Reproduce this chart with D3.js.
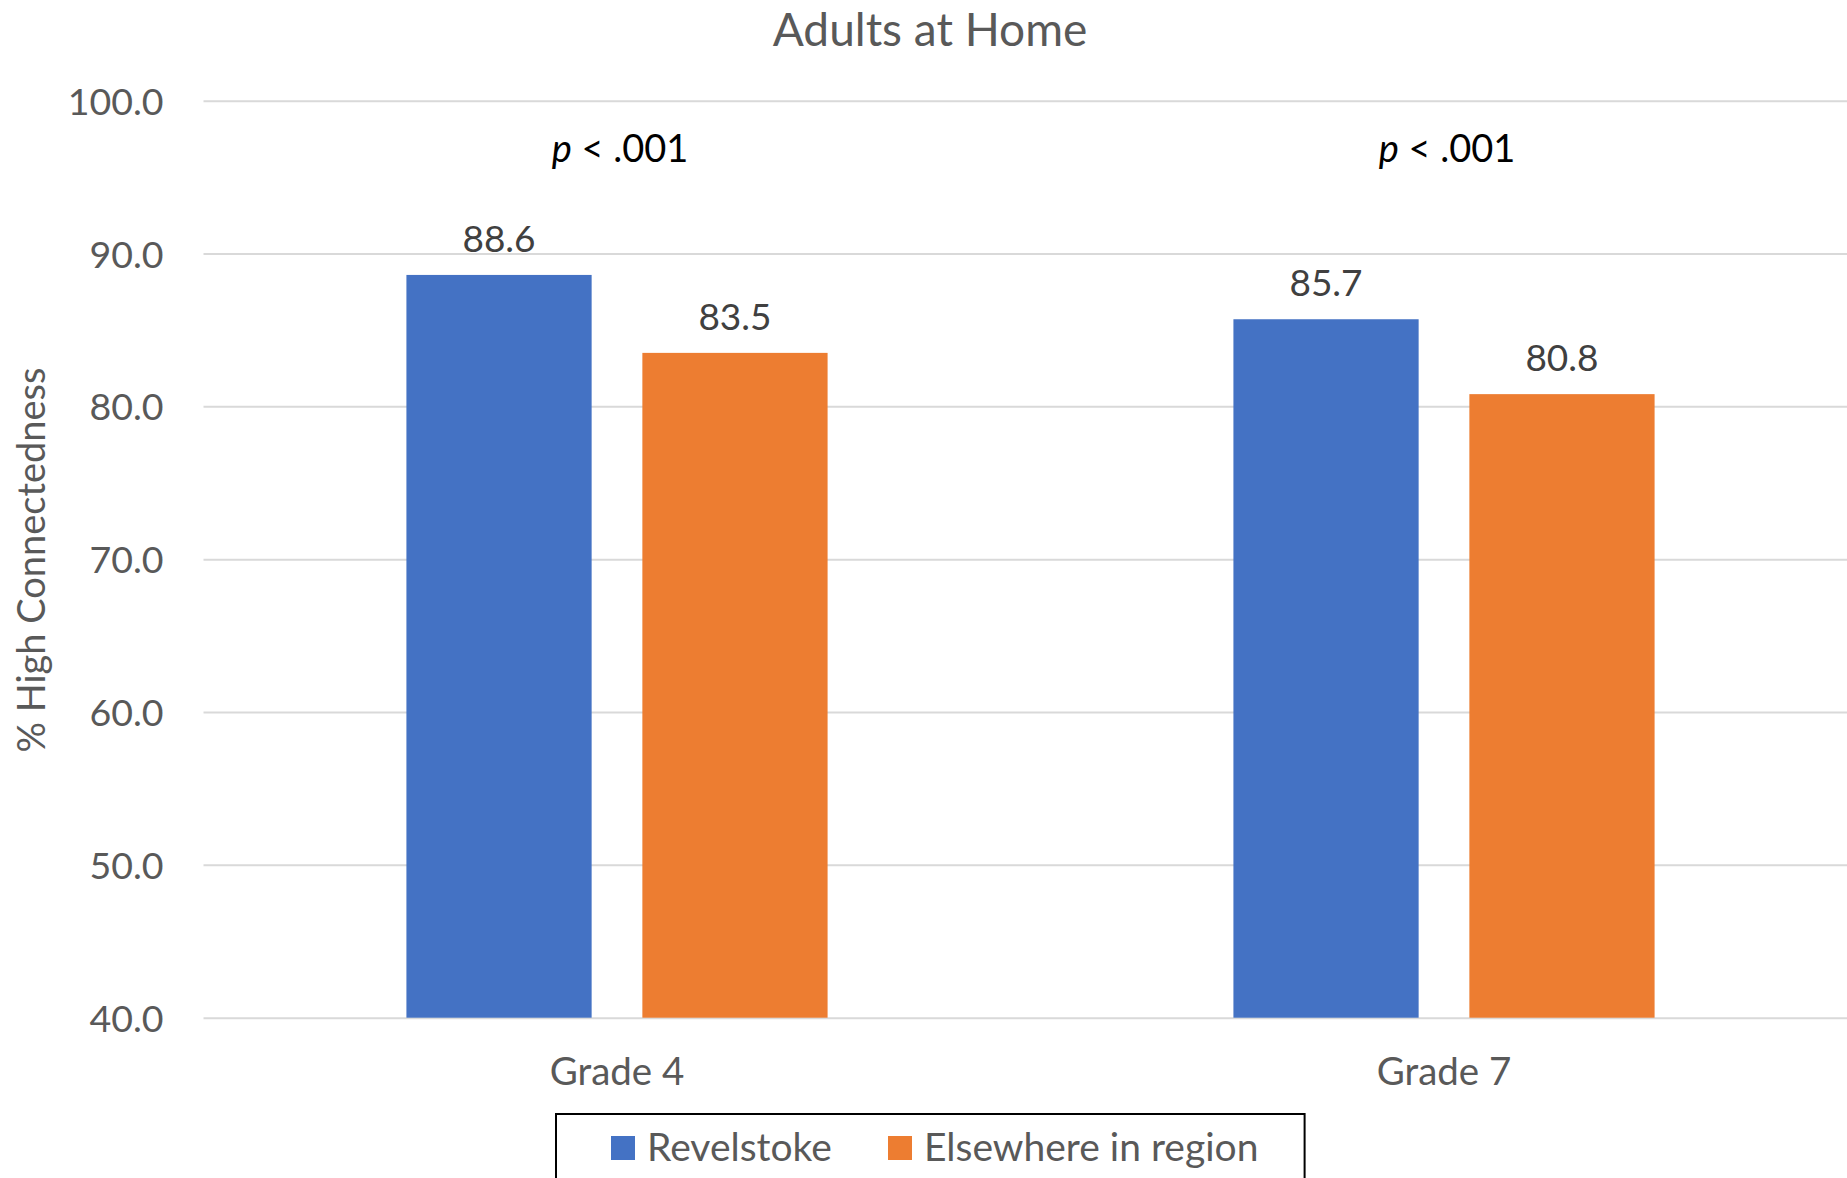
<!DOCTYPE html>
<html>
<head>
<meta charset="utf-8">
<script src="https://cdn.jsdelivr.net/npm/d3@7/dist/d3.min.js"></script>
<style>
  html, body { margin: 0; padding: 0; background: #fff; }
  svg { display: block; }
  text { font-family: Lato, "Open Sans", sans-serif; }
</style>
</head>
<body>
<svg id="chart" width="1847" height="1178"></svg>
<script>
// Chart data
const categories = ["Grade 4", "Grade 7"];
const seriesNames = ["Revelstoke", "Elsewhere in region"];
const revelstoke = [88.6, 85.7];
const elsewhere = [83.5, 80.8];
const pLabels = ["< .001", "< .001"];
const yTicks = [40, 50, 60, 70, 80, 90, 100];

const colors = ["#4472C4", "#ED7D31"];
const seriesValues = [revelstoke, elsewhere];

const W = 1847, H = 1178;
const plot = { left: 203.5, right: 1857.5, top: 100.7, bottom: 1017.7 };

const svg = d3.select("#chart");

const y = d3.scaleLinear().domain([40, 100]).range([plot.bottom, plot.top]);
const x0 = d3.scaleBand().domain(categories).range([plot.left, plot.right]).padding(0);
const x1 = d3.scaleBand().domain(seriesNames).range([0, x0.bandwidth()])
  .paddingInner(0.215).paddingOuter(0.86);

// Gridlines and y tick labels
const yAxis = d3.axisLeft(y).tickValues(yTicks)
  .tickFormat(d3.format(".1f"))
  .tickSize(-(W - plot.left)).tickPadding(40);
const ga = svg.append("g").attr("transform", `translate(${plot.left},0)`).call(yAxis);
ga.select(".domain").remove();
ga.selectAll(".tick line").attr("stroke", "#D9D9D9").attr("stroke-width", 2);
ga.selectAll(".tick text")
  .attr("fill", "#595959").attr("font-size", 37.5).attr("dy", "0.36em")
  .style("font-family", "Lato, 'Open Sans', sans-serif");

// Bars
const rows = categories.map((c, i) => ({ cat: c, vals: seriesNames.map((s, j) => ({ s, j, v: seriesValues[j][i] })) }));
const groups = svg.append("g").selectAll("g").data(rows).join("g")
  .attr("transform", d => `translate(${x0(d.cat)},0)`);

groups.selectAll("rect").data(d => d.vals).join("rect")
  .attr("x", d => x1(d.s))
  .attr("width", x1.bandwidth())
  .attr("y", d => y(d.v))
  .attr("height", d => y(40) - y(d.v))
  .attr("fill", d => colors[d.j]);

// Value labels
groups.selectAll("text.val").data(d => d.vals).join("text")
  .attr("class", "val")
  .attr("x", d => x1(d.s) + x1.bandwidth() / 2)
  .attr("y", d => y(d.v) - 23)
  .attr("text-anchor", "middle")
  .attr("fill", "#404040")
  .attr("font-size", 37)
  .text(d => d.v.toFixed(1));

// Significance annotations
const pt = svg.append("g").selectAll("text").data(categories).join("text")
  .attr("x", d => x0(d) + x0.bandwidth() / 2 + 3)
  .attr("y", 161.5)
  .attr("text-anchor", "middle")
  .attr("fill", "#000")
  .attr("font-size", 38);
pt.append("tspan").attr("font-style", "italic").text("p");
pt.append("tspan").text((d, i) => " " + pLabels[i]);

// Category labels
svg.append("g").selectAll("text").data(categories).join("text")
  .attr("x", d => x0(d) + x0.bandwidth() / 2)
  .attr("y", 1085)
  .attr("text-anchor", "middle")
  .attr("fill", "#595959")
  .attr("font-size", 38.5)
  .text(d => d);

// Title
svg.append("text")
  .attr("x", 930).attr("y", 46)
  .attr("text-anchor", "middle")
  .attr("fill", "#595959")
  .attr("font-size", 46)
  .text("Adults at Home");

// Y axis title
svg.append("text")
  .attr("transform", `translate(45,${(367 + 753) / 2}) rotate(-90)`)
  .attr("text-anchor", "middle")
  .attr("fill", "#595959")
  .attr("font-size", 38)
  .text("% High Connectedness");

// Legend
const legend = svg.append("g");
legend.append("rect")
  .attr("x", 556).attr("y", 1114)
  .attr("width", 748.6).attr("height", 80)
  .attr("fill", "#fff").attr("stroke", "#000").attr("stroke-width", 2);
const legendX = [611, 888];
const items = legend.selectAll("g").data(seriesNames).join("g")
  .attr("transform", (d, i) => `translate(${legendX[i]},0)`);
items.append("rect")
  .attr("x", 0).attr("y", 1136).attr("width", 24).attr("height", 24)
  .attr("fill", (d, i) => colors[i]);
items.append("text")
  .attr("x", 36).attr("y", 1161)
  .attr("fill", "#595959")
  .attr("font-size", 39)
  .text(d => d);
</script>
</body>
</html>
